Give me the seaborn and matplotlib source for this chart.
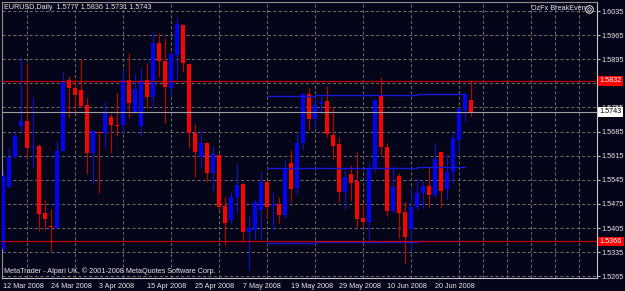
import matplotlib
matplotlib.use("Agg")
import matplotlib.pyplot as plt
import seaborn as sns
import numpy as np
import pandas as pd
from matplotlib.ticker import FixedLocator

# ---------------- data (EURUSD daily) ----------------
opens = [1.5345, 1.5524, 1.5611, 1.5701, 1.5715, 1.5638, 1.5643, 1.5448, 1.5410, 1.5405,
         1.5628, 1.5835, 1.5811, 1.5806, 1.5762, 1.5622, 1.5685, 1.5681, 1.5727, 1.5704,
         1.5704, 1.5835, 1.5739, 1.5701, 1.5835, 1.5785, 1.5942, 1.5890, 1.5811, 1.5907,
         1.5994, 1.5881, 1.5681, 1.5611, 1.5652, 1.5564, 1.5617, 1.5469, 1.5428, 1.5495,
         1.5532, 1.5393, 1.5399, 1.5457, 1.5538, 1.5469, 1.5475, 1.5442, 1.5593, 1.5521,
         1.5652, 1.5794, 1.5721, 1.5765, 1.5774, 1.5675, 1.5649, 1.5509, 1.5561, 1.5541,
         1.5434, 1.5422, 1.5579, 1.5788, 1.5640, 1.5454, 1.5556, 1.5451, 1.5402, 1.5466,
         1.5506, 1.5527, 1.5501, 1.5625, 1.5518, 1.5567, 1.5660, 1.5747, 1.5777]
highs = [1.5573, 1.5640, 1.5684, 1.5901, 1.5884, 1.5785, 1.5649, 1.5486, 1.5460, 1.5657,
         1.5858, 1.5846, 1.5837, 1.5895, 1.5785, 1.5689, 1.5686, 1.5774, 1.5739, 1.5797,
         1.5864, 1.5913, 1.5852, 1.5869, 1.5884, 1.5974, 1.5971, 1.5957, 1.5916, 1.6018,
         1.5997, 1.5884, 1.5707, 1.5692, 1.5654, 1.5643, 1.5620, 1.5495, 1.5509, 1.5593,
         1.5538, 1.5440, 1.5486, 1.5567, 1.5544, 1.5509, 1.5495, 1.5602, 1.5631, 1.5681,
         1.5797, 1.5811, 1.5785, 1.5788, 1.5817, 1.5756, 1.5669, 1.5579, 1.5588, 1.5625,
         1.5480, 1.5596, 1.5779, 1.5843, 1.5652, 1.5585, 1.5564, 1.5480, 1.5521, 1.5550,
         1.5544, 1.5582, 1.5652, 1.5628, 1.5620, 1.5684, 1.5756, 1.5795, 1.5836]
lows = [1.5335, 1.5521, 1.5608, 1.5681, 1.5611, 1.5582, 1.5396, 1.5399, 1.5338, 1.5404,
        1.5625, 1.5727, 1.5739, 1.5756, 1.5561, 1.5532, 1.5506, 1.5637, 1.5622, 1.5672,
        1.5681, 1.5724, 1.5739, 1.5672, 1.5753, 1.5756, 1.5843, 1.5710, 1.5788, 1.5835,
        1.5858, 1.5637, 1.5553, 1.5582, 1.5538, 1.5515, 1.5457, 1.5355, 1.5419, 1.5448,
        1.5364, 1.5283, 1.5370, 1.5370, 1.5434, 1.5399, 1.5419, 1.5434, 1.5480, 1.5501,
        1.5631, 1.5689, 1.5695, 1.5739, 1.5669, 1.5605, 1.5480, 1.5460, 1.5483, 1.5408,
        1.5408, 1.5361, 1.5567, 1.5617, 1.5440, 1.5448, 1.5376, 1.5303, 1.5341, 1.5457,
        1.5463, 1.5466, 1.5495, 1.5466, 1.5489, 1.5535, 1.5622, 1.5713, 1.5731]
closes = [1.5556, 1.5611, 1.5672, 1.5715, 1.5637, 1.5641, 1.5445, 1.5431, 1.5407, 1.5628,
          1.5829, 1.5811, 1.5791, 1.5759, 1.5622, 1.5686, 1.5681, 1.5739, 1.5704, 1.5702,
          1.5835, 1.5768, 1.5808, 1.5835, 1.5785, 1.5942, 1.5890, 1.5814, 1.5910, 1.5997,
          1.5884, 1.5681, 1.5625, 1.5652, 1.5564, 1.5620, 1.5466, 1.5419, 1.5495, 1.5530,
          1.5393, 1.5405, 1.5480, 1.5538, 1.5466, 1.5475, 1.5442, 1.5576, 1.5518, 1.5652,
          1.5794, 1.5721, 1.5762, 1.5771, 1.5678, 1.5643, 1.5509, 1.5553, 1.5535, 1.5431,
          1.5422, 1.5579, 1.5776, 1.5640, 1.5454, 1.5524, 1.5448, 1.5379, 1.5466, 1.5506,
          1.5527, 1.5501, 1.5605, 1.5512, 1.5567, 1.5666, 1.5750, 1.5794, 1.5743]

date_labels = ["12 Mar 2008", "24 Mar 2008", "3 Apr 2008", "15 Apr 2008", "25 Apr 2008",
               "7 May 2008", "19 May 2008", "29 May 2008", "10 Jun 2008", "20 Jun 2008"]
date_label_bars = [0, 8, 16, 24, 32, 40, 48, 56, 64, 72]
price_ticks = [1.6035, 1.5965, 1.5895, 1.5825, 1.5755, 1.5685, 1.5615,
               1.5545, 1.5475, 1.5405, 1.5335, 1.5265]
# 1.5825 sits completely under the 1.5832 marker in the reference
price_tick_labels = ["1.6035", "1.5965", "1.5895", "", "1.5755", "1.5685", "1.5615",
                     "1.5545", "1.5475", "1.5405", "1.5335", "1.5265"]
red_levels = [1.5832, 1.5366]
bid_level = 1.5743

# OzFx BreakEven indicator segments
be_starts = [44, 52, 69]
be_ends = [52, 69, 77]
be_top = [1.5789, 1.5790, 1.5795]
be_mid = [1.5578, 1.5578, 1.5581]
be_bot = [1.5363, 1.5365, 1.5367]

header = "EURUSD,Daily  1.5777 1.5836 1.5731 1.5743"
footer = "MetaTrader - Alpari UK, \u00a9 2001-2008 MetaQuotes Software Corp."
indicator_name = "OzFx BreakEven"

# ---------------- style ----------------
BG = "#05051a"
GRID = "#6a6a6a"
BULL = "#0000ff"
BEAR = "#ff0000"
BULL_W = "#1010c8"
BEAR_W = "#c00000"
TXT = "#e8e8e8"
FS = 5.2

sns.set_theme(style="dark", rc={"axes.facecolor": BG, "figure.facecolor": BG})
plt.rcParams["font.family"] = ["Liberation Sans", "DejaVu Sans"]

W, H = 625, 291
fig = plt.figure(figsize=(W / 100, H / 100), dpi=100, facecolor=BG)


def fx(x):
    return x / W


def fy(y):
    return 1 - y / H


ax = fig.add_axes([fx(2), fy(277.5), fx(597) - fx(2), fy(1.5) - fy(277.5)])
ax.set_facecolor(BG)

o = np.array(opens)
h = np.array(highs)
l = np.array(lows)
c = np.array(closes)
xi = np.arange(len(o))
up = c >= o
dn = ~up

ax.set_xlim(-0.12, 99.05)
ax.set_ylim(1.52615, 1.60626)

# grid
ax.set_yticks(price_ticks)
ax.set_yticklabels(price_tick_labels)
ax.yaxis.tick_right()
ax.set_xticks(date_label_bars)
ax.set_xticklabels(date_labels)
ax.xaxis.set_minor_locator(FixedLocator(np.arange(0, 100, 4)))
ax.xaxis.grid(False, which="major")
ax.xaxis.grid(True, which="minor", color=GRID, lw=0.75, ls=(0, (3, 2.2)))
ax.yaxis.grid(True, which="major", color=GRID, lw=0.75, ls=(0, (3, 2.2)))
ax.set_axisbelow(True)

ax.tick_params(axis="x", which="minor", length=0)
ax.tick_params(axis="x", which="major", length=2.2, width=0.7, color="#c8c8c8",
               labelsize=FS, labelcolor=TXT, pad=1.4, direction="out")
ax.tick_params(axis="y", which="major", length=2.0, width=0.7, color="#c8c8c8",
               labelsize=FS, labelcolor=TXT, pad=1.0, direction="out",
               right=True, left=False)
for lab in ax.get_xticklabels():
    lab.set_horizontalalignment("left")

for side, col in [("left", "#909090"), ("top", "#909090"),
                  ("right", "#c8c8c8"), ("bottom", "#c8c8c8")]:
    ax.spines[side].set_visible(True)
    ax.spines[side].set_color(col)
    ax.spines[side].set_linewidth(0.8)

# candles: wicks then bodies
ax.vlines(xi[up], l[up], h[up], colors=BULL_W, lw=0.8, zorder=2)
ax.vlines(xi[dn], l[dn], h[dn], colors=BEAR_W, lw=0.8, zorder=2)
body = np.maximum(np.abs(c - o), 0.00028)
ax.bar(xi[up], body[up], bottom=o[up], width=0.66, color=BULL, lw=0, zorder=3)
ax.bar(xi[dn], body[dn], bottom=c[dn], width=0.66, color=BEAR, lw=0, zorder=3)

# BreakEven indicator segments via seaborn
rows = []
seg = 0
for levels in (be_top, be_mid, be_bot):
    for s, e, v in zip(be_starts, be_ends, levels):
        rows.append({"bar": s, "price": v, "seg": seg})
        rows.append({"bar": e, "price": v, "seg": seg})
        seg += 1
be_df = pd.DataFrame(rows)
sns.lineplot(data=be_df, x="bar", y="price", units="seg", estimator=None,
             color="#1818d8", lw=1.0, ax=ax, zorder=4)
ax.set_xlabel("")
ax.set_ylabel("")

# horizontal level lines
for lv in red_levels:
    ax.axhline(lv, color="#c00000", lw=0.9, zorder=5)
ax.axhline(bid_level, color="#a0a0a0", lw=0.8, zorder=5)

# price label boxes on the right scale
ytr = ax.get_yaxis_transform()
for val, fc, tc in [(red_levels[0], "#ff0000", "white"),
                    (red_levels[1], "#ff0000", "white"),
                    (bid_level, "white", "black")]:
    ax.annotate(f"{val:.4f}", xy=(1, val), xycoords=ytr, xytext=(2.0, 0),
                textcoords="offset points", ha="left", va="center",
                fontsize=FS, color=tc, annotation_clip=False, zorder=10,
                bbox=dict(boxstyle="square,pad=0.2", fc=fc, ec="none"))

# texts
fig.text(fx(4), fy(7.5), header, fontsize=FS, color=TXT, ha="left", va="center")
fig.text(fx(4), fy(271.5), footer, fontsize=FS, color=TXT, ha="left", va="center")
fig.text(fx(531), fy(9), indicator_name, fontsize=FS, color=TXT, ha="left", va="center")
fig.lines.append(plt.Line2D([fx(589)], [fy(9)], marker="o", ms=5.5, mfc="none",
                            mec=TXT, mew=0.7, transform=fig.transFigure))
fig.lines.append(plt.Line2D([fx(589)], [fy(9)], marker="o", ms=2.5, mfc="none",
                            mec=TXT, mew=0.6, transform=fig.transFigure))

fig.savefig("out.png", dpi=100, facecolor=BG)
